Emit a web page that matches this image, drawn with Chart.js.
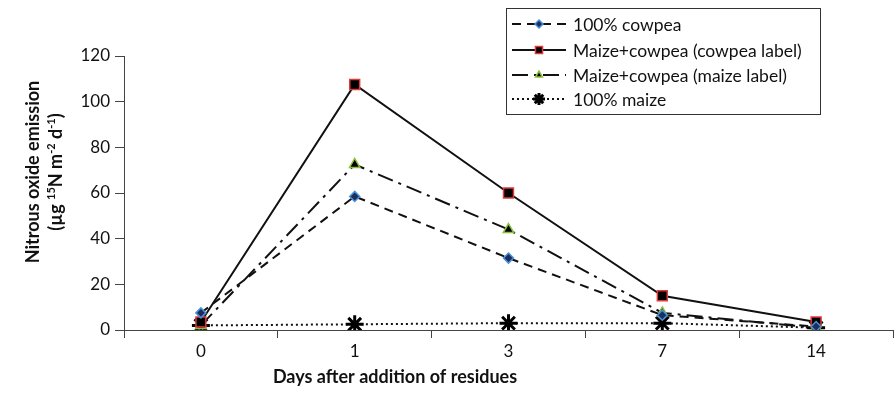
<!DOCTYPE html>
<html>
<head>
<meta charset="utf-8">
<script src="https://cdn.jsdelivr.net/npm/chart.js@4.4.1/dist/chart.umd.min.js"></script>
<style>
  html, body { margin: 0; padding: 0; background: #fff; overflow: hidden; }
  #wrap { width: 905px; height: 396px; }
</style>
</head>
<body>
<div id="wrap"><canvas id="chart"></canvas></div>
<script>
// days after residue addition
const days = ["0", "1", "3", "7", "14"];
// N2O emission, ug 15N m-2 d-1
const cowpea = [7.5, 58.5, 31.5, 6.5, 1.5];
const mixCowpeaLabel = [3.5, 107.5, 60, 15, 3.5];
const mixMaizeLabel = [2, 72.5, 44, 7.5, 1];
const maize = [2, 2.5, 3, 3, 1];
const yTicks = [0, 20, 40, 60, 80, 100, 120];

const FONT = "Lato, 'Open Sans', sans-serif";

// legend + axis titles drawn by hand (Excel style)
const extras = {
  id: "extras",
  afterDraw(chart) {
    const ctx = chart.ctx;
    ctx.save();

    // x title
    ctx.fillStyle = "#111";
    ctx.font = "bold 18px " + FONT;
    ctx.textAlign = "center";
    ctx.textBaseline = "middle";
    ctx.fillText("Days after addition of residues", 395, 377);

    // y title, rotated
    ctx.save();
    ctx.translate(33, 172);
    ctx.rotate(-Math.PI / 2);
    ctx.fillText("Nitrous oxide emission", 0, 0);
    ctx.restore();

    ctx.save();
    ctx.translate(56, 172);
    ctx.rotate(-Math.PI / 2);
    const parts = [
      ["(\u00b5g ", false], ["15", true], ["N m", false], ["-2", true],
      [" d", false], ["-1", true], [")", false]
    ];
    let total = 0;
    parts.forEach(p => {
      ctx.font = (p[1] ? "bold 11px " : "bold 18px ") + FONT;
      total += ctx.measureText(p[0]).width;
    });
    let x = -total / 2;
    ctx.textAlign = "left";
    parts.forEach(p => {
      ctx.font = (p[1] ? "bold 11px " : "bold 18px ") + FONT;
      ctx.fillText(p[0], x, p[1] ? -5 : 0);
      x += ctx.measureText(p[0]).width;
    });
    ctx.restore();

    // legend box
    ctx.strokeStyle = "#333";
    ctx.lineWidth = 1;
    ctx.strokeRect(506.5, 8.5, 314, 106);
    const rows = [24, 50, 75, 99];
    ctx.font = "17.5px " + FONT;
    ctx.textAlign = "left";
    chart.data.datasets.forEach((ds, i) => {
      const y = rows[i];
      ctx.save();
      ctx.strokeStyle = ds.borderColor;
      ctx.lineWidth = ds.borderWidth;
      ctx.setLineDash(ds.borderDash || []);
      ctx.beginPath();
      ctx.moveTo(512, y);
      ctx.lineTo(566, y);
      ctx.stroke();
      ctx.restore();
      ctx.fillStyle = "#111";
      ctx.fillText(ds.label, 573, y + 1);
      ctx.fillStyle = ds.pointBackgroundColor;
      ctx.strokeStyle = ds.pointBorderColor;
      ctx.lineWidth = ds.pointBorderWidth;
      Chart.helpers.drawPoint(ctx, {
        pointStyle: ds.pointStyle,
        radius: ds.legendRadius,
        borderWidth: ds.pointBorderWidth,
        rotation: 0
      }, 539, y);
    });
    ctx.restore();
  }
};

new Chart(document.getElementById("chart"), {
  type: "line",
  data: {
    labels: days,
    datasets: [
      {
        label: "100% cowpea",
        data: cowpea,
        borderColor: "#111",
        borderWidth: 2,
        borderDash: [9, 6],
        pointStyle: "rectRot",
        pointRadius: 5,
        legendRadius: 4,
        pointBackgroundColor: "#1c2f5a",
        pointBorderColor: "#4a90d9",
        pointBorderWidth: 1.5
      },
      {
        label: "Maize+cowpea (cowpea label)",
        data: mixCowpeaLabel,
        borderColor: "#111",
        borderWidth: 2,
        pointStyle: "rect",
        pointRadius: 7,
        legendRadius: 5,
        pointBackgroundColor: "#000",
        pointBorderColor: "#e03a3a",
        pointBorderWidth: 1.5
      },
      {
        label: "Maize+cowpea (maize label)",
        data: mixMaizeLabel,
        borderColor: "#111",
        borderWidth: 2,
        borderDash: [16, 6, 3, 6],
        pointStyle: "triangle",
        pointRadius: 6,
        legendRadius: 4,
        pointBackgroundColor: "#000",
        pointBorderColor: "#8cbf3f",
        pointBorderWidth: 1.5
      },
      {
        label: "100% maize",
        data: maize,
        borderColor: "#111",
        borderWidth: 2,
        borderDash: [2, 3],
        pointStyle: "star",
        pointRadius: 9,
        legendRadius: 6,
        pointBackgroundColor: "#000",
        pointBorderColor: "#000",
        pointBorderWidth: 3
      }
    ]
  },
  options: {
    responsive: true,
    maintainAspectRatio: false,
    animation: false,
    layout: { padding: { top: 56, right: 5, left: 0, bottom: 0 } },
    plugins: {
      legend: { display: false },
      tooltip: { enabled: false }
    },
    elements: { line: { tension: 0 } },
    scales: {
      x: {
        type: "category",
        offset: true,
        grid: {
          offset: true,
          drawOnChartArea: false,
          drawTicks: true,
          tickLength: 8,
          color: "#444"
        },
        border: { display: true, color: "#444", width: 1 },
        ticks: {
          color: "#111",
          font: { family: FONT, size: 17 },
          padding: 3,
          maxRotation: 0
        },
        afterFit(scale) { scale.height = 66; }
      },
      y: {
        min: 0,
        max: 120,
        afterBuildTicks(scale) { scale.ticks = yTicks.map(v => ({ value: v })); },
        grid: {
          drawOnChartArea: false,
          drawTicks: true,
          tickLength: 9,
          color: "#444"
        },
        border: { display: true, color: "#444", width: 1 },
        ticks: {
          color: "#111",
          font: { family: FONT, size: 17 },
          padding: 5
        },
        afterFit(scale) { scale.width = 124; }
      }
    }
  },
  plugins: [extras]
});
</script>
</body>
</html>
